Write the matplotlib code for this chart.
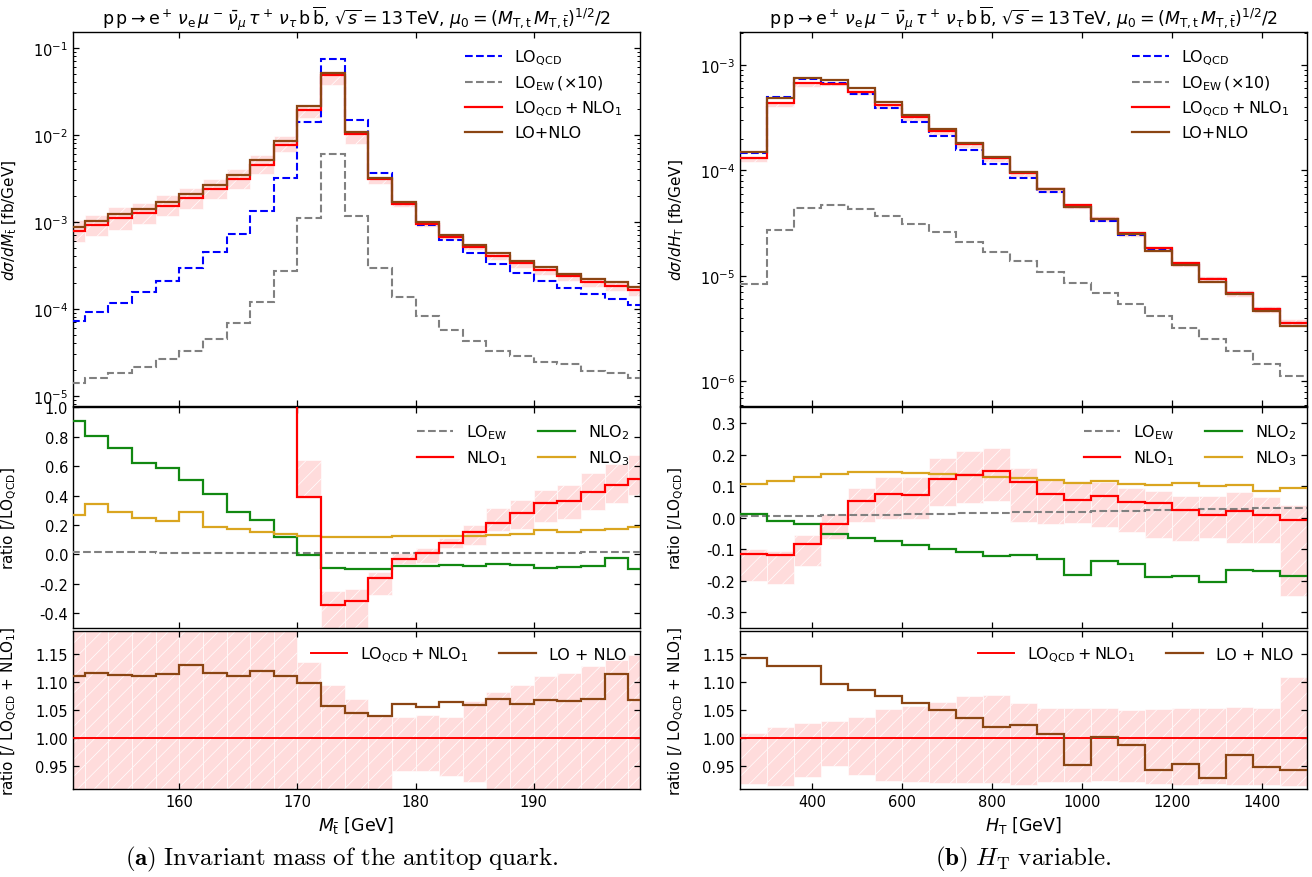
import numpy as np
import matplotlib
matplotlib.use('Agg')
import matplotlib.pyplot as plt
from matplotlib.ticker import FixedLocator, FormatStrFormatter, LogLocator, NullFormatter

# ---------------- data: antitop invariant mass (left) ----------------
mt_edges = np.arange(150, 201, 2)

mt_lo_qcd = [7.2e-5, 9.1e-5, 1.17e-4, 1.55e-4, 2.09e-4, 2.98e-4, 4.47e-4, 7.2e-4, 1.34e-3, 3.15e-3,
             1.39e-2, 7.48e-2, 1.50e-2, 3.63e-3, 1.60e-3, 9.2e-4, 6.2e-4, 4.43e-4, 3.31e-4, 2.61e-4,
             2.09e-4, 1.74e-4, 1.48e-4, 1.28e-4, 1.11e-4]
mt_lo_ew_x10 = [1.42e-5, 1.62e-5, 1.85e-5, 2.13e-5, 2.68e-5, 3.3e-5, 4.54e-5, 6.86e-5, 1.19e-4, 2.69e-4,
                1.12e-3, 5.98e-3, 1.17e-3, 2.93e-4, 1.37e-4, 8.3e-5, 5.65e-5, 4.22e-5, 3.3e-5, 2.88e-5,
                2.48e-5, 2.31e-5, 1.94e-5, 1.85e-5, 1.62e-5]
mt_lo_nlo1 = [7.91e-4, 9.18e-4, 1.10e-3, 1.25e-3, 1.53e-3, 1.86e-3, 2.38e-3, 3.07e-3, 4.56e-3, 7.73e-3,
              1.95e-2, 4.90e-2, 1.02e-2, 3.07e-3, 1.585e-3, 9.35e-4, 6.64e-4, 5.09e-4, 4.06e-4, 3.34e-4,
              2.80e-4, 2.37e-4, 2.06e-4, 1.85e-4, 1.65e-4]
mt_lo_nlo = [8.79e-4, 1.025e-3, 1.224e-3, 1.389e-3, 1.704e-3, 2.104e-3, 2.657e-3, 3.411e-3, 5.103e-3, 8.588e-3,
             2.143e-2, 5.179e-2, 1.0645e-2, 3.187e-3, 1.680e-3, 9.874e-4, 7.068e-4, 5.388e-4, 4.340e-4, 3.545e-4,
             2.989e-4, 2.526e-4, 2.202e-4, 2.060e-4, 1.763e-4]
# scale band of LO_QCD+NLO_1, relative to its central value
mt_band_lo = [0.74, 0.755, 0.735, 0.76, 0.76, 0.76, 0.77, 0.77, 0.78, 0.82,
              0.80, 0.755, 0.77, 0.89, 0.940, 0.940, 0.931, 0.921, 0.90, 0.89,
              0.88, 0.87, 0.87, 0.86, 0.86]
mt_band_hi = [1.34, 1.30, 1.33, 1.31, 1.32, 1.31, 1.32, 1.32, 1.30, 1.25,
              1.136, 1.095, 1.069, 1.039, 1.038, 1.040, 1.0376, 1.066, 1.082, 1.094,
              1.110, 1.116, 1.129, 1.140, 1.148]
# ratios to LO_QCD
mt_r_ew = [0.0197, 0.0178, 0.0158, 0.0137, 0.0128, 0.0111, 0.0102, 0.0095, 0.0089, 0.0085,
           0.0081, 0.0080, 0.0078, 0.0081, 0.0086, 0.0090, 0.0091, 0.0095, 0.0100, 0.0110,
           0.0119, 0.0125, 0.0131, 0.0140, 0.0146]
mt_r_nlo1 = [9.99, 9.09, 8.4, 7.06, 6.32, 5.24, 4.32, 3.26, 2.40, 1.45,
             0.39, -0.345, -0.318, -0.163, -0.032, 0.009, 0.075, 0.150, 0.211, 0.281,
             0.347, 0.361, 0.422, 0.470, 0.513]
mt_r_nlo1_lo = [8.0, 7.2, 6.6, 5.5, 4.9, 4.1, 3.3, 2.5, 1.8, 1.1,
                0.385, -0.6, -0.6, -0.275, -0.066, -0.057, 0.041, 0.066, 0.161, 0.173,
                0.22, 0.243, 0.302, 0.352, 0.404]
mt_r_nlo1_hi = [12.0, 11.0, 10.0, 9.0, 8.0, 6.5, 5.4, 4.2, 3.1, 1.95,
                0.645, -0.25, -0.232, -0.118, 0.007, 0.043, 0.111, 0.20, 0.313, 0.370,
                0.44, 0.474, 0.554, 0.615, 0.679]
mt_r_nlo2 = [0.910, 0.804, 0.724, 0.622, 0.586, 0.504, 0.413, 0.291, 0.234, 0.118,
             -0.002, -0.093, -0.100, -0.098, -0.077, -0.082, -0.073, -0.082, -0.066, -0.073,
             -0.091, -0.084, -0.082, -0.027, -0.100]
mt_r_nlo3 = [0.268, 0.343, 0.288, 0.250, 0.225, 0.288, 0.186, 0.173, 0.152, 0.136,
             0.127, 0.118, 0.116, 0.118, 0.123, 0.125, 0.125, 0.127, 0.134, 0.138,
             0.166, 0.154, 0.163, 0.175, 0.186]

# ---------------- data: H_T (right) ----------------
ht_edges = np.arange(240, 1501, 60)

ht_lo_qcd = [1.456e-4, 4.97e-4, 7.26e-4, 6.75e-4, 5.24e-4, 3.91e-4, 2.88e-4, 2.12e-4, 1.56e-4, 1.136e-4,
             8.37e-5, 6.17e-5, 4.51e-5, 3.34e-5, 2.45e-5, 1.79e-5, 1.31e-5, 9.33e-6, 6.86e-6, 4.83e-6,
             3.56e-6]
ht_lo_ew_x10 = [8.34e-6, 2.75e-5, 4.35e-5, 4.71e-5, 4.31e-5, 3.73e-5, 3.13e-5, 2.59e-5, 2.10e-5, 1.70e-5,
                1.38e-5, 1.09e-5, 8.59e-6, 6.86e-6, 5.43e-6, 4.18e-6, 3.24e-6, 2.51e-6, 1.96e-6, 1.48e-6,
                1.12e-6]
ht_lo_nlo1 = [1.30e-4, 4.33e-4, 6.65e-4, 6.6e-4, 5.55e-4, 4.15e-4, 3.17e-4, 2.35e-4, 1.76e-4, 1.30e-4,
              9.4e-5, 6.62e-5, 4.71e-5, 3.49e-5, 2.54e-5, 1.84e-5, 1.32e-5, 9.44e-6, 6.90e-6, 4.90e-6,
              3.56e-6]
ht_lo_nlo = [1.487e-4, 4.891e-4, 7.501e-4, 7.240e-4, 6.027e-4, 4.460e-4, 3.367e-4, 2.467e-4, 1.823e-4, 1.326e-4,
             9.607e-5, 6.660e-5, 4.479e-5, 3.492e-5, 2.507e-5, 1.732e-5, 1.257e-5, 8.751e-6, 6.686e-6, 4.640e-6,
             3.354e-6]
ht_band_lo = [0.917, 0.914, 0.930, 0.950, 0.933, 0.923, 0.921, 0.919, 0.919, 0.918,
              0.916, 0.920, 0.921, 0.922, 0.920, 0.917, 0.915, 0.917, 0.916, 0.915,
              0.914]
ht_band_hi = [1.0084, 1.0185, 1.0257, 1.030, 1.038, 1.051, 1.057, 1.0645, 1.074, 1.076,
              1.062, 1.054, 1.0526, 1.0526, 1.050, 1.051, 1.0526, 1.054, 1.055, 1.053,
              1.1087]
ht_r_ew = [0.0057, 0.0055, 0.0060, 0.0070, 0.0082, 0.0095, 0.0109, 0.0122, 0.0135, 0.0150,
           0.0165, 0.0177, 0.0190, 0.0205, 0.0220, 0.0234, 0.0247, 0.0269, 0.0286, 0.0306,
           0.0310]
ht_r_nlo1 = [-0.115, -0.119, -0.083, -0.019, 0.052, 0.0755, 0.071, 0.121, 0.135, 0.148,
             0.112, 0.0745, 0.055, 0.070, 0.049, 0.0457, 0.0255, 0.0074, 0.020, 0.0096,
             -0.0074]
ht_r_nlo1_lo = [-0.202, -0.212, -0.154, -0.069, -0.014, -0.003, -0.003, 0.037, 0.046, 0.052,
                -0.014, -0.021, -0.016, -0.029, -0.045, -0.065, -0.073, -0.064, -0.079, -0.079,
                -0.247]
ht_r_nlo1_hi = [-0.10, -0.105, -0.056, 0.013, 0.093, 0.129, 0.129, 0.189, 0.212, 0.221,
                0.158, 0.120, 0.116, 0.112, 0.093, 0.083, 0.068, 0.068, 0.080, 0.064,
                0.040]
ht_r_nlo2 = [0.0117, -0.0106, -0.020, -0.051, -0.065, -0.0755, -0.088, -0.098, -0.1085, -0.121,
             -0.119, -0.132, -0.181, -0.138, -0.146, -0.189, -0.186, -0.203, -0.167, -0.168,
             -0.186]
ht_r_nlo3 = [0.107, 0.116, 0.130, 0.139, 0.145, 0.1436, 0.1415, 0.138, 0.135, 0.130,
             0.1266, 0.119, 0.1085, 0.116, 0.107, 0.102, 0.1096, 0.101, 0.104, 0.084,
             0.0947]

# ---------------- style ----------------
C_QCD = '#0000ff'
C_EW = '#808080'
C_NLO1 = '#ff0000'
C_NLO = '#8b4513'
C_NLO2 = '#118811'
C_NLO3 = '#daa520'
C_BAND = '#ffdcdc'

plt.rcParams['hatch.color'] = 'white'
plt.rcParams['hatch.linewidth'] = 0.5
plt.rcParams['font.size'] = 11

TITLE = (r'$\mathrm{p\,p}\rightarrow\mathrm{e}^+\,\nu_\mathrm{e}\,\mu^-\,\bar{\nu}_\mu\,\tau^+\,\nu_\tau\,'
         r'\mathrm{b}\,\overline{\mathrm{b}}$, $\sqrt{s}=13\,$TeV, '
         r'$\mu_0=(M_{\mathrm{T,t}}\,M_{\mathrm{T,\bar{t}}})^{1/2}/2$')


def band(ax, edges, lo, hi):
    edges = np.asarray(edges)
    lo = np.asarray(lo)
    hi = np.asarray(hi)
    ax.bar(edges[:-1], hi - lo, bottom=lo, width=np.diff(edges), align='edge',
           color=C_BAND, edgecolor='white', linewidth=0.4, hatch='//', zorder=1)


def style(ax):
    ax.tick_params(which='both', direction='in', top=True, right=True, labelsize=10.5)
    ax.tick_params(which='major', length=4.5, width=0.9)
    ax.tick_params(which='minor', length=2.5, width=0.7)
    for s in ax.spines.values():
        s.set_linewidth(1.0)


def column(fig, x0, edges, lo_qcd, lo_ew_x10, lo_nlo1, lo_nlo, band_lo, band_hi,
           r_ew, r_nlo1, r_nlo1_lo, r_nlo1_hi, r_nlo2, r_nlo3,
           xlim, ylim_top, ylim_mid, yticks_mid, top_ylabel, xlabel, xticks, caption, cap_x):
    W = 0.4322
    ax1 = fig.add_axes([x0, 0.5368, W, 0.4253])
    ax2 = fig.add_axes([x0, 0.2836, W, 0.2514])
    ax3 = fig.add_axes([x0, 0.1002, W, 0.1803])

    lo_nlo1 = np.asarray(lo_nlo1)
    # --- top: distributions ---
    band(ax1, edges, lo_nlo1 * np.asarray(band_lo), lo_nlo1 * np.asarray(band_hi))
    ax1.stairs(lo_qcd, edges, baseline=None, color=C_QCD, ls='--', lw=1.5, label=r'LO$_{\mathrm{QCD}}$', zorder=3)
    ax1.stairs(lo_ew_x10, edges, baseline=None, color=C_EW, ls='--', lw=1.5,
               label=r'LO$_{\mathrm{EW}}\,(\times 10)$', zorder=3)
    ax1.stairs(lo_nlo1, edges, baseline=None, color=C_NLO1, lw=1.6,
               label=r'LO$_{\mathrm{QCD}}+$NLO$_1$', zorder=4)
    ax1.stairs(lo_nlo, edges, baseline=None, color=C_NLO, lw=1.6, label='LO+NLO', zorder=5)
    ax1.set_yscale('log')
    ax1.set_xlim(*xlim)
    ax1.set_ylim(*ylim_top)
    ax1.yaxis.set_minor_locator(LogLocator(base=10, subs=np.arange(2, 10)))
    ax1.yaxis.set_minor_formatter(NullFormatter())
    ax1.set_ylabel(top_ylabel, fontsize=11)
    ax1.legend(loc='upper left', bbox_to_anchor=(0.68, 0.975), frameon=False, fontsize=11.5,
               handlelength=2.3, labelspacing=0.42, borderaxespad=0)

    # --- middle: ratios to LO_QCD ---
    band(ax2, edges, r_nlo1_lo, r_nlo1_hi)
    ax2.stairs(r_ew, edges, baseline=None, color=C_EW, ls='--', lw=1.5, label=r'LO$_{\mathrm{EW}}$', zorder=3)
    ax2.stairs(r_nlo1, edges, baseline=None, color=C_NLO1, lw=1.6, label=r'NLO$_1$', zorder=4)
    ax2.stairs(r_nlo2, edges, baseline=None, color=C_NLO2, lw=1.6, label=r'NLO$_2$', zorder=3)
    ax2.stairs(r_nlo3, edges, baseline=None, color=C_NLO3, lw=1.6, label=r'NLO$_3$', zorder=3)
    ax2.set_xlim(*xlim)
    ax2.set_ylim(*ylim_mid)
    ax2.yaxis.set_major_locator(FixedLocator(yticks_mid))
    ax2.yaxis.set_major_formatter(FormatStrFormatter('%.1f'))
    ax2.set_ylabel(r'ratio [/LO$_{\mathrm{QCD}}$]', fontsize=11)
    ax2.legend(loc='upper left', bbox_to_anchor=(0.595, 0.96), frameon=False, fontsize=11.5, ncol=2,
               handlelength=2.3, labelspacing=0.45, columnspacing=1.9, borderaxespad=0)

    # --- bottom: ratio to LO_QCD + NLO_1 ---
    band(ax3, edges, band_lo, band_hi)
    ax3.stairs(lo_nlo1 / lo_nlo1, edges, baseline=None, color=C_NLO1, lw=1.4,
               label=r'LO$_{\mathrm{QCD}}+$NLO$_1$', zorder=4)
    ax3.stairs(np.asarray(lo_nlo) / lo_nlo1, edges, baseline=None, color=C_NLO, lw=1.6,
               label='LO + NLO', zorder=5)
    ax3.set_xlim(*xlim)
    ax3.set_ylim(0.908, 1.192)
    ax3.yaxis.set_major_locator(FixedLocator([0.95, 1.00, 1.05, 1.10, 1.15]))
    ax3.yaxis.set_major_formatter(FormatStrFormatter('%.2f'))
    ax3.set_ylabel(r'ratio [/ LO$_{\mathrm{QCD}}$ + NLO$_1$]', fontsize=11)
    ax3.set_xlabel(xlabel, fontsize=12.5)
    ax3.legend(loc='upper left', bbox_to_anchor=(0.408, 0.95), frameon=False, fontsize=11.5, ncol=2,
               handlelength=2.3, columnspacing=1.9, borderaxespad=0)

    for ax in (ax1, ax2, ax3):
        ax.xaxis.set_major_locator(FixedLocator(xticks))
        style(ax)
        ax.yaxis.set_label_coords(-0.095, 0.5)
    ax1.tick_params(labelbottom=False)
    ax2.tick_params(labelbottom=False)

    ax1.set_title(TITLE, fontsize=12.5, pad=5)
    fig.text(cap_x, 0.0216, caption, ha='center', va='center', fontsize=18, math_fontfamily='cm')


fig = plt.figure(figsize=(13.12, 8.78), dpi=100)

column(fig, 0.0556, mt_edges, mt_lo_qcd, mt_lo_ew_x10, mt_lo_nlo1, mt_lo_nlo, mt_band_lo, mt_band_hi,
       mt_r_ew, mt_r_nlo1, mt_r_nlo1_lo, mt_r_nlo1_hi, mt_r_nlo2, mt_r_nlo3,
       xlim=(151, 199), ylim_top=(7.7e-6, 0.151), ylim_mid=(-0.5, 1.0),
       yticks_mid=[-0.4, -0.2, 0.0, 0.2, 0.4, 0.6, 0.8, 1.0],
       top_ylabel=r'$d\sigma/dM_{\bar{\mathrm{t}}}$ [fb/GeV]', xlabel=r'$M_{\bar{\mathrm{t}}}$ [GeV]',
       xticks=[160, 170, 180, 190],
       caption=r'$\mathbf{(a)}\ \mathrm{Invariant\ mass\ of\ the\ antitop\ quark.}$', cap_x=0.260)

column(fig, 0.5640, ht_edges, ht_lo_qcd, ht_lo_ew_x10, ht_lo_nlo1, ht_lo_nlo, ht_band_lo, ht_band_hi,
       ht_r_ew, ht_r_nlo1, ht_r_nlo1_lo, ht_r_nlo1_hi, ht_r_nlo2, ht_r_nlo3,
       xlim=(240, 1500), ylim_top=(5.9e-7, 2.03e-3), ylim_mid=(-0.35, 0.35),
       yticks_mid=[-0.3, -0.2, -0.1, 0.0, 0.1, 0.2, 0.3],
       top_ylabel=r'$d\sigma/dH_{\mathrm{T}}$ [fb/GeV]', xlabel=r'$H_{\mathrm{T}}$ [GeV]',
       xticks=[400, 600, 800, 1000, 1200, 1400],
       caption=r'$\mathbf{(b)}\ H_{\mathrm{T}}\ \mathrm{variable.}$', cap_x=0.7797)

fig.savefig('out.png', dpi=100)
